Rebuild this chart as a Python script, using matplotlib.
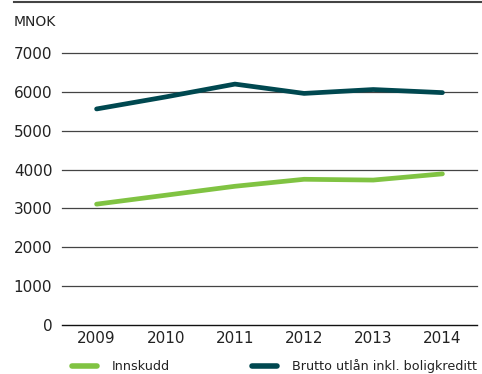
import matplotlib
matplotlib.use("Agg")
import matplotlib.pyplot as plt
from matplotlib.lines import Line2D

# ----- Data -----
years = ["2009", "2010", "2011", "2012", "2013", "2014"]
innskudd = [3110, 3340, 3570, 3750, 3730, 3890]
brutto_utlan = [5560, 5870, 6200, 5960, 6060, 5980]
y_ticks = [0, 1000, 2000, 3000, 4000, 5000, 6000, 7000]

GREEN = "#80c342"
DARK = "#004850"

plt.rcParams["font.family"] = "DejaVu Sans"

fig = plt.figure(figsize=(4.82, 3.74), dpi=100)
ax = fig.add_axes([62 / 482, 1 - 325 / 374, 415 / 482, 272 / 374])

x = range(len(years))
ax.plot(x, innskudd, color=GREEN, lw=3.4, solid_capstyle="round", zorder=3)
ax.plot(x, brutto_utlan, color=DARK, lw=3.4, solid_capstyle="round", zorder=3)

ax.set_xlim(-0.5, len(years) - 0.5)
ax.set_ylim(0, 7000)
ax.set_xticks(list(x))
ax.set_xticklabels(years, fontsize=11, color="#222222")
ax.set_yticks(y_ticks)
ax.set_yticklabels([str(v) for v in y_ticks], fontsize=11, color="#222222")
ax.tick_params(length=0, pad=7)
ax.tick_params(axis="x", pad=4)

for v in y_ticks[1:]:
    ax.axhline(v, color="#444444", lw=0.9, zorder=1, clip_on=False)
ax.axhline(0, color="#111111", lw=1.0, zorder=2, clip_on=False)
for s in ax.spines.values():
    s.set_visible(False)

# top rule and unit label
fig.add_artist(Line2D([14 / 482, 1], [1 - 1.5 / 374] * 2, color="#444444", lw=1.5))
fig.text(14 / 482, 1 - 22 / 374, "MNOK", fontsize=10, va="center", ha="left", color="#222222")

# legend below the chart
ly = 1 - 366 / 374
fig.add_artist(Line2D([72 / 482, 97 / 482], [ly, ly], color=GREEN, lw=4, solid_capstyle="round"))
fig.text(112 / 482, ly, "Innskudd", fontsize=9.2, va="center", ha="left", color="#222222")
fig.add_artist(Line2D([252 / 482, 277 / 482], [ly, ly], color=DARK, lw=4, solid_capstyle="round"))
fig.text(292 / 482, ly, "Brutto utlån inkl. boligkreditt", fontsize=9.2, va="center", ha="left", color="#222222")

fig.savefig("out.png", dpi=100)
